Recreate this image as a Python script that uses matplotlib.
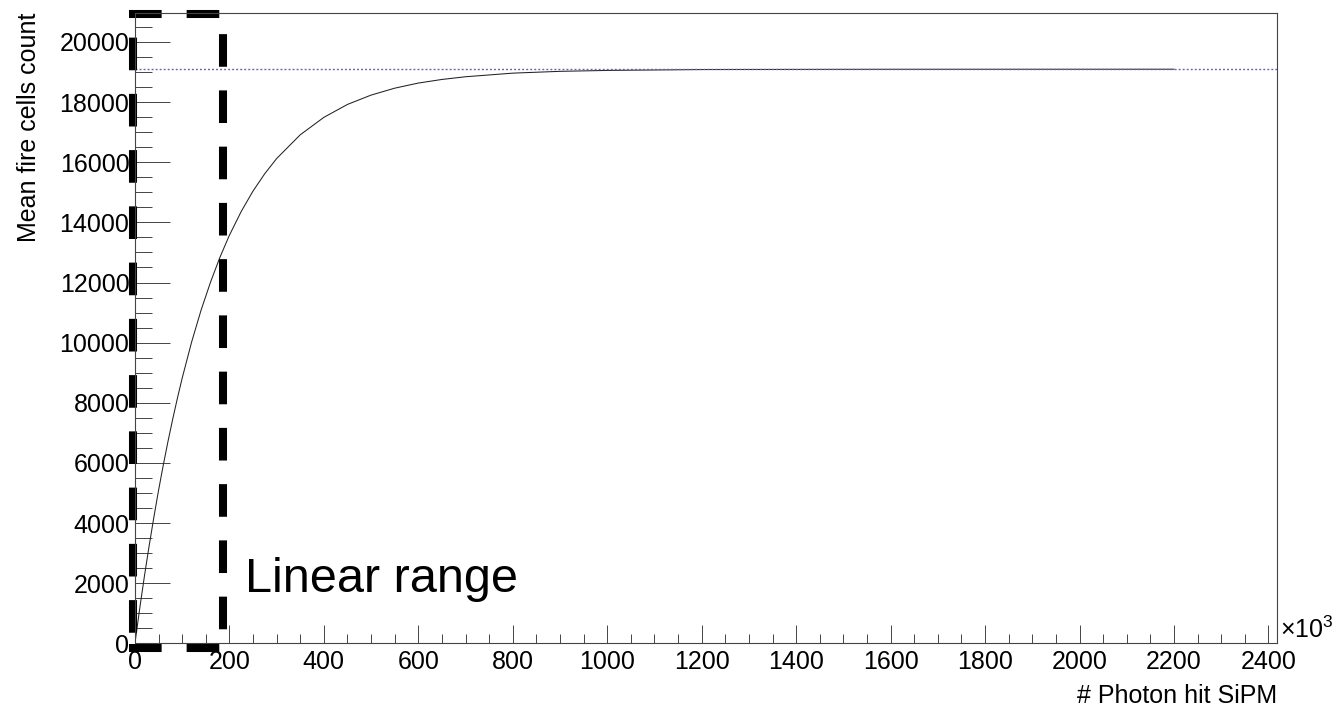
import matplotlib
matplotlib.use('Agg')
import matplotlib.pyplot as plt
from matplotlib.ticker import MultipleLocator

plt.rcParams['font.family'] = ['Liberation Sans', 'DejaVu Sans']
plt.rcParams['mathtext.fontset'] = 'custom'
plt.rcParams['mathtext.rm'] = 'Liberation Sans'
plt.rcParams['lines.scale_dashes'] = False

# photons hitting the SiPM (x 10^3) and mean fired cells
photons = [0, 10, 20, 30, 40, 50, 60, 70, 80, 90, 100, 120, 140, 160, 180,
           200, 225, 250, 275, 300, 350, 400, 450, 500, 550, 600, 650, 700,
           800, 900, 1000, 1200, 1600, 2200]
fired = [0, 1150, 2230, 3240, 4190, 5090, 5930, 6720, 7460, 8160, 8820,
         10020, 11080, 12010, 12840, 13570, 14360, 15040, 15620, 16120,
         16910, 17490, 17920, 18230, 18460, 18630, 18750, 18840, 18960,
         19020, 19050, 19080, 19088, 19090]
n_cells = 19090          # dotted saturation level
linear_end = 186         # right side of the "Linear range" box (x 10^3)

xmax = 2418
ymax = 20960

fig = plt.figure(figsize=(13.36, 7.09), dpi=100)
ax = fig.add_axes([0.1010, 0.0924, 0.8548, 0.8893])

ax.plot(photons, fired, color='#222222', lw=0.75)
ax.axhline(n_cells, color='#5f5fe0', lw=1.0, linestyle=(0, (1.4, 1.5)))

ax.set_xlim(0, xmax)
ax.set_ylim(0, ymax)
ax.xaxis.set_major_locator(MultipleLocator(200))
ax.xaxis.set_minor_locator(MultipleLocator(50))
ax.yaxis.set_major_locator(MultipleLocator(2000))
ax.yaxis.set_minor_locator(MultipleLocator(500))
ax.tick_params(axis='x', which='major', direction='in', length=13, width=0.7,
               color='#444444', labelsize=18, pad=5)
ax.tick_params(axis='x', which='minor', direction='in', length=6.5, width=0.7,
               color='#444444')
ax.tick_params(axis='y', which='major', direction='in', length=25, width=0.7,
               color='#444444', labelsize=18, pad=4)
ax.tick_params(axis='y', which='minor', direction='in', length=12.5, width=0.7,
               color='#444444')
for s in ax.spines.values():
    s.set_linewidth(0.8)
    s.set_color('#444444')

ax.text(1.003, 0.0, '×10$^{3}$', transform=ax.transAxes,
        fontsize=18, ha='left', va='bottom')
ax.text(1.0, -0.065, '# Photon hit SiPM', transform=ax.transAxes,
        fontsize=18, ha='right', va='top')
ax.text(-0.093, 1.0, 'Mean fire cells count', transform=ax.transAxes,
        fontsize=18, rotation=90, ha='center', va='top')

# dashed box marking the linear range
box_kw = dict(color='k', lw=5.8, solid_capstyle='butt', dash_capstyle='butt',
              clip_on=False)
bx0, bx1 = -5, linear_end
by0, by1 = -150, 20940
for yy in (by1, by0):
    ax.plot([bx0 - 8, bx1 + 8], [yy, yy], linestyle=(0, (23.5, 18)), **box_kw)
ax.plot([bx0, bx0], [by1, by0], linestyle=(23.5, (23.5, 17)), **box_kw)
ax.plot([bx1, bx1], [by1, by0], linestyle=(26, (23.5, 17)), **box_kw)

ax.text(233, 1720, 'Linear range', fontsize=35, ha='left', va='baseline')

fig.savefig('out.png', dpi=100)
